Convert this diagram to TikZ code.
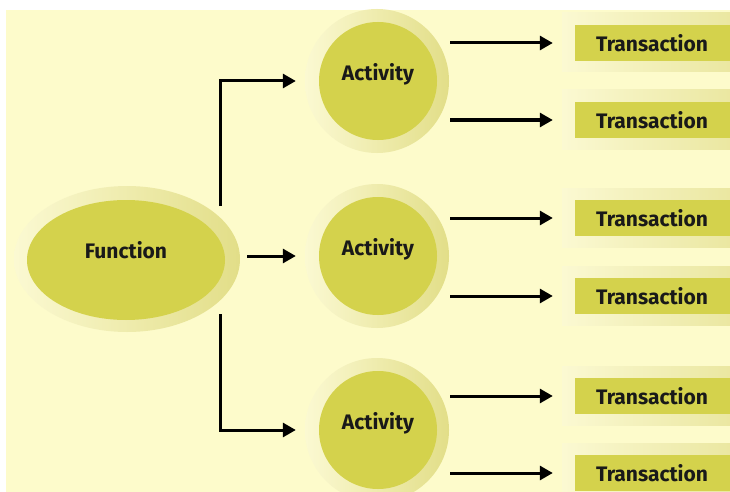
\documentclass[tikz,border=0pt]{standalone}
\usepackage{fontspec}
\setmainfont{Fira Sans}
\usetikzlibrary{arrows.meta,shapes.geometric}
\definecolor{bg}{HTML}{FDFBCB}
\definecolor{inner}{HTML}{D4D24C}
\definecolor{haloL}{HTML}{FBF9D2}
\definecolor{haloR}{HTML}{E2DE88}
\tikzset{
  halo/.style={draw=none, left color=haloL, right color=haloR, inner sep=0pt},
  core/.style={draw=none, fill=inner, inner sep=0pt},
  lbl/.style={font=\bfseries\fontsize{21}{22}\selectfont, text=black!90, inner sep=0pt},
  arr/.style={line width=3pt, -{Triangle[length=13pt,width=14pt]}},
}
\begin{document}
\begin{tikzpicture}[x=1pt,y=-1pt]
\useasboundingbox (0,0) rectangle (730,492);
\fill[white] (0,0) rectangle (730,492);
\fill[bg] (6,10) rectangle (730,492);
% function
\node[halo, ellipse, minimum width=226, minimum height=146] (fh) at (127,259) {};
\node[core, ellipse, minimum width=198, minimum height=120] (func) at (126,260) {};
\node[lbl] (funct) at (126,250) {Function};
% activities
\foreach \i/\y in {1/81,2/256,3/430}{
  \node[halo, circle, minimum size=144] (ah\i) at (377,\y) {};
  \node[core, circle, minimum size=118] (act\i) at (378,\y) {};
  \node[lbl] (actt\i) at (378,\y-7) {Activity};
}
% transactions
\foreach \i/\y in {1/43,2/120,3/218,4/296,5/396,6/473}{
  \shade[left color=haloL, right color=haloR!70!haloL] (562,\y-30) rectangle (740,\y+29);
  \node[core, rectangle, minimum width=155, minimum height=36] (t\i) at (652.5,\y) {};
  \node[lbl] (tt\i) at (652,\y) {Transaction};
}
% connectors
\coordinate (c1) at (220,206);
\coordinate (c3) at (220,314);
\coordinate (c2) at (247,256);
\draw[arr] (c1) |- ([xshift=-23pt]act1.west);
\draw[arr] (c2) -- ([xshift=-23pt]act2.west);
\draw[arr] (c3) |- ([xshift=-23pt]act3.west);
\foreach \a/\t in {1/1,1/2,2/3,2/4,3/5,3/6}{
  \draw[arr] ([xshift=13pt]act\a.east |- t\t.west) -- ([xshift=-22pt]t\t.west);
}
\end{tikzpicture}
\end{document}
